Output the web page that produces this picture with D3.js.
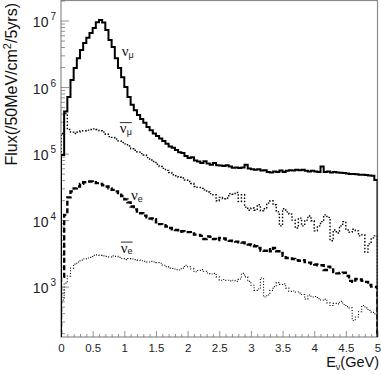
<!DOCTYPE html>
<html>
<head>
<meta charset="utf-8">
<script src="https://cdn.jsdelivr.net/npm/d3@7"></script>
<style>
body { margin: 0; background: #fff; }
svg { display: block; font-family: "Liberation Sans", Arial, sans-serif; }
</style>
</head>
<body>
<svg id="chart" width="381" height="375"></svg>
<script>
// 50 MeV bins from 0 to 5 GeV
var BIN_WIDTH = 0.05;

var numuFlux = [9.5e4, 4.3e5, 7.1e5, 1.28e6, 1.93e6, 2.7e6, 3.6e6, 4.6e6, 5.5e6, 6.5e6,
    7.7e6, 9.4e6, 1.02e7, 9.3e6, 7.2e6, 5.1e6, 4.0e6, 2.7e6, 1.93e6, 1.41e6,
    1.0e6, 7.1e5, 5.4e5, 4.5e5, 3.8e5, 3.3e5, 2.9e5, 2.5e5, 2.25e5, 2.0e5,
    1.83e5, 1.68e5, 1.55e5, 1.4e5, 1.28e5, 1.22e5, 1.13e5, 1.05e5, 1.02e5, 9.2e4,
    8.6e4, 8.8e4, 7.9e4, 7.6e4, 7.2e4, 7.7e4, 7.1e4, 6.8e4, 7.2e4, 6.7e4,
    6.6e4, 6.5e4, 6.7e4, 6.4e4, 6.1e4, 6.2e4, 6.05e4, 6.2e4, 6.8e4, 5.95e4,
    5.8e4, 5.7e4, 5.8e4, 5.55e4, 5.6e4, 5.3e4, 5.2e4, 5.4e4, 5.3e4, 5.55e4,
    5.3e4, 5.5e4, 5.6e4, 5.55e4, 5.7e4, 5.6e4, 5.7e4, 5.5e4, 5.4e4, 5.5e4,
    5.4e4, 5.3e4, 6.4e4, 5.3e4, 5.4e4, 5.2e4, 5.3e4, 5.2e4, 5.15e4, 5.1e4,
    5.0e4, 4.95e4, 4.95e4, 4.9e4, 4.8e4, 4.8e4, 4.75e4, 4.7e4, 4.65e4, 4.0e4];

var numubarFlux = [2.0e5, 4.0e5, 2.3e5, 2.1e5, 2.0e5, 2.1e5, 2.2e5, 2.2e5, 2.25e5, 2.3e5,
    2.35e5, 2.3e5, 2.2e5, 2.1e5, 1.95e5, 1.8e5, 1.75e5, 1.65e5, 1.55e5, 1.47e5,
    1.4e5, 1.3e5, 1.18e5, 1.12e5, 1.05e5, 1.0e5, 9.5e4, 8.7e4, 8.0e4, 7.6e4,
    6.9e4, 6.4e4, 6.0e4, 5.6e4, 5.2e4, 4.8e4, 4.65e4, 4.4e4, 4.3e4, 4.0e4,
    3.8e4, 3.55e4, 3.2e4, 3.1e4, 3.0e4, 2.85e4, 2.65e4, 2.5e4, 2.4e4, 1.95e4,
    2.2e4, 2.1e4, 2.15e4, 2.5e4, 2.45e4, 2.6e4, 1.9e4, 2.4e4, 1.57e4, 1.41e4,
    1.52e4, 1.41e4, 1.7e4, 1.38e4, 1.48e4, 1.8e4, 1.95e4, 1.7e4, 1.33e4, 8.2e3,
    1.48e4, 1.33e4, 1.23e4, 1.0e4, 7.6e3, 1.07e4, 8.2e3, 1.0e4, 1.15e4, 9.8e3,
    6.9e3, 8.2e3, 9.5e3, 1.2e4, 1.1e4, 4.9e3, 7.1e3, 6.4e3, 8.2e3, 9.5e3,
    7.1e3, 6.6e3, 7.3e3, 6.9e3, 5.8e3, 6.0e3, 3.3e3, 4.4e3, 5.4e3, 5.8e3];

var nueFlux = [1.4e3, 1.2e4, 2.2e4, 2.7e4, 3.0e4, 3.2e4, 3.5e4, 3.7e4, 3.8e4, 3.8e4,
    3.7e4, 3.6e4, 3.5e4, 3.35e4, 3.2e4, 3.0e4, 2.85e4, 2.7e4, 2.55e4, 2.3e4,
    2.05e4, 1.85e4, 1.6e4, 1.45e4, 1.35e4, 1.27e4, 1.17e4, 1.1e4, 1.06e4, 1.03e4,
    9.3e3, 8.7e3, 8.4e3, 8.0e3, 7.6e3, 7.3e3, 7.1e3, 6.7e3, 6.8e3, 6.6e3,
    6.6e3, 6.3e3, 6.05e3, 6.0e3, 5.8e3, 5.2e3, 5.7e3, 5.6e3, 5.2e3, 5.0e3,
    5.4e3, 5.3e3, 5.1e3, 4.9e3, 4.85e3, 4.75e3, 4.65e3, 4.6e3, 4.5e3, 4.3e3,
    4.2e3, 4.05e3, 3.8e3, 3.5e3, 3.45e3, 3.65e3, 3.4e3, 3.8e3, 3.4e3, 3.2e3,
    2.9e3, 2.7e3, 2.65e3, 2.6e3, 2.5e3, 2.45e3, 2.5e3, 2.35e3, 2.3e3, 2.2e3,
    2.15e3, 2.1e3, 2.1e3, 1.78e3, 2.0e3, 1.95e3, 1.65e3, 1.58e3, 1.6e3, 1.62e3,
    1.45e3, 1.22e3, 1.18e3, 1.3e3, 1.28e3, 1.22e3, 1.18e3, 1.06e3, 1.0e3, 9.9e2];

var nuebarFlux = [6.3e2, 1.13e3, 1.44e3, 1.9e3, 2.18e3, 2.35e3, 2.5e3, 2.6e3, 2.7e3, 2.75e3,
    2.95e3, 3.0e3, 2.95e3, 2.9e3, 2.85e3, 2.8e3, 2.9e3, 2.85e3, 2.75e3, 2.65e3,
    2.55e3, 2.65e3, 2.6e3, 2.55e3, 2.5e3, 2.45e3, 2.4e3, 2.35e3, 2.4e3, 2.35e3,
    2.3e3, 2.25e3, 2.1e3, 2.0e3, 1.9e3, 1.88e3, 1.8e3, 1.78e3, 1.9e3, 2.1e3,
    2.0e3, 1.85e3, 1.67e3, 1.75e3, 1.8e3, 1.7e3, 1.6e3, 1.55e3, 1.58e3, 1.4e3,
    1.25e3, 1.28e3, 1.25e3, 1.22e3, 1.25e3, 1.2e3, 1.3e3, 1.58e3, 1.4e3, 1.2e3,
    1.05e3, 8.8e2, 9.2e2, 1.35e3, 7.0e2, 7.5e2, 8.8e2, 1.0e3, 1.15e3, 1.08e3,
    1.1e3, 9.5e2, 8.5e2, 8.6e2, 8.3e2, 8.0e2, 7.6e2, 6.5e2, 7.5e2, 7.0e2,
    7.1e2, 6.6e2, 6.3e2, 6.5e2, 5.7e2, 5.2e2, 5.6e2, 5.5e2, 6.0e2, 5.4e2,
    5.0e2, 4.8e2, 3.1e2, 3.5e2, 4.2e2, 5.2e2, 4.8e2, 4.4e2, 4.1e2, 3.9e2];

var xTickValues = [0, 0.5, 1, 1.5, 2, 2.5, 3, 3.5, 4, 4.5, 5];
var yDecades = [3, 4, 5, 6, 7];

/* Plot frame */
var canvas_w = 381, canvas_h = 375;
var plot = {left: 61, right: 377.5, top: 0.5, bottom: 337};
var X_MAX = 5, Y_MIN = 175, Y_MAX = 2e7;

var x = d3.scaleLinear().domain([0, X_MAX]).range([plot.left, plot.right]);
var y = d3.scaleLog().domain([Y_MIN, Y_MAX]).range([plot.bottom, plot.top]);

var svg = d3.select("#chart").attr("width", canvas_w).attr("height", canvas_h);

svg.append("defs").append("clipPath").attr("id", "plotClip")
    .append("rect")
    .attr("x", plot.left).attr("y", plot.top)
    .attr("width", plot.right - plot.left).attr("height", plot.bottom - plot.top);

// frame
svg.append("rect")
    .attr("x", plot.left).attr("y", plot.top)
    .attr("width", plot.right - plot.left).attr("height", plot.bottom - plot.top)
    .attr("fill", "none").attr("stroke", "#8c8c8c").attr("stroke-width", 1.2);

// y axis: minor ticks
var yMinor = [];
for (var n = 2; n <= 7; n++) {
    for (var k = 2; k <= 9; k++) {
        var v = k * Math.pow(10, n);
        if (v >= Y_MIN && v <= Y_MAX) yMinor.push(v);
    }
}
var yMinorAxis = svg.append("g").attr("transform", "translate(" + plot.left + ",0)")
    .call(d3.axisLeft(y).tickValues(yMinor).tickSize(-4).tickFormat(""));
var yMajorAxis = svg.append("g").attr("transform", "translate(" + plot.left + ",0)")
    .call(d3.axisLeft(y).tickValues(yDecades.map(function(p) { return Math.pow(10, p); }))
        .tickSize(-8).tickPadding(4).tickFormat(""));
[yMinorAxis, yMajorAxis].forEach(function(g) {
    g.select(".domain").remove();
    g.selectAll(".tick line").attr("stroke", "#777").attr("stroke-width", 0.8);
});
yMajorAxis.selectAll(".tick").each(function(d) {
    var t = d3.select(this).append("text")
        .attr("x", -5).attr("dy", "0.45em")
        .attr("text-anchor", "end").attr("fill", "#222")
        .style("font-size", "14px");
    t.append("tspan").text("10");
    t.append("tspan").attr("dx", 2).attr("dy", -7).style("font-size", "10px")
        .text(Math.round(Math.log10(d)));
});

// x axis
var xMinor = d3.range(0, 51).map(function(i) { return i / 10; })
    .filter(function(v) { return Math.round(v * 10) % 5 !== 0; });
var xMinorAxis = svg.append("g").attr("transform", "translate(0," + plot.bottom + ")")
    .call(d3.axisBottom(x).tickValues(xMinor).tickSize(-3).tickFormat(""));
var xMajorAxis = svg.append("g").attr("transform", "translate(0," + plot.bottom + ")")
    .call(d3.axisBottom(x).tickValues(xTickValues).tickSize(-6).tickPadding(5)
        .tickFormat(function(d) { return String(d); }));
[xMinorAxis, xMajorAxis].forEach(function(g) {
    g.select(".domain").remove();
    g.selectAll(".tick line").attr("stroke", "#777").attr("stroke-width", 0.8);
});
xMajorAxis.selectAll(".tick text")
    .attr("y", 7).attr("dy", "0.71em")
    .attr("fill", "#222").style("font-size", "11.5px").style("font-family", "inherit");

// histograms
function step_points(values) {
    var pts = [[0, Y_MIN / 10], [0, values[0]]];
    values.forEach(function(v, i) {
        if (i > 0) pts.push([i * BIN_WIDTH, v]);
    });
    pts.push([values.length * BIN_WIDTH, values[values.length - 1]]);
    pts.push([values.length * BIN_WIDTH, Y_MIN / 10]);
    return pts;
}

var line = d3.line()
    .x(function(d) { return x(d[0]); })
    .y(function(d) { return y(Math.max(d[1], Y_MIN / 2)); })
    .curve(d3.curveStepAfter);

var series = [
    {values: nuebarFlux, width: 1.1, dash: "1,1.8"},
    {values: nueFlux, width: 2.4, dash: "5,2.5"},
    {values: numubarFlux, width: 1.4, dash: "1.5,1.8"},
    {values: numuFlux, width: 2, dash: null}
];

var histGroup = svg.append("g").attr("clip-path", "url(#plotClip)");
series.forEach(function(s) {
    histGroup.append("path")
        .attr("d", line(step_points(s.values)))
        .attr("fill", "none")
        .attr("stroke", "#000")
        .attr("stroke-width", s.width)
        .attr("stroke-dasharray", s.dash)
        .attr("stroke-linejoin", "miter");
});

// curve labels
var curveLabels = [
    {nu: "ν", sub: "μ", bar: false, e: 0.96, v: 2.9e6},
    {nu: "ν", sub: "μ", bar: true, e: 0.93, v: 2.03e5},
    {nu: "ν", sub: "e", bar: false, e: 1.105, v: 2.0e4},
    {nu: "ν", sub: "e", bar: true, e: 0.945, v: 3.25e3}
];
curveLabels.forEach(function(l) {
    var t = svg.append("text")
        .attr("x", x(l.e)).attr("y", y(l.v))
        .attr("fill", "#111")
        .style("font-family", "'Liberation Serif', 'DejaVu Serif', serif")
        .style("font-size", "15px");
    t.append("tspan").text(l.nu);
    t.append("tspan").attr("dy", 1.5).style("font-size", "9px")
        .style("font-family", "'Liberation Sans', Arial, sans-serif").text(l.sub);
    if (l.bar) {
        var bb = t.node().getBBox();
        svg.append("line")
            .attr("x1", bb.x).attr("x2", bb.x + bb.width)
            .attr("y1", y(l.v) - 10.5).attr("y2", y(l.v) - 10.5)
            .attr("stroke", "#111").attr("stroke-width", 0.9);
    }
});

// axis titles
var yTitle = svg.append("text")
    .attr("transform", "translate(17," + 3 + ") rotate(-90)")
    .attr("text-anchor", "end")
    .attr("fill", "#111")
    .style("font-size", "16px");
yTitle.append("tspan").text("Flux(/50MeV/cm");
yTitle.append("tspan").attr("dy", -6).style("font-size", "11px").text("2");
yTitle.append("tspan").attr("dy", 6).text("/5yrs)");

var xTitle = svg.append("text")
    .attr("x", 379).attr("y", 367)
    .attr("text-anchor", "end")
    .attr("fill", "#111")
    .style("font-size", "14.5px");
xTitle.append("tspan").text("E");
xTitle.append("tspan").attr("dy", 3).style("font-size", "9px").text("ν");
xTitle.append("tspan").attr("dy", -3).text("(GeV)");
</script>
</body>
</html>
